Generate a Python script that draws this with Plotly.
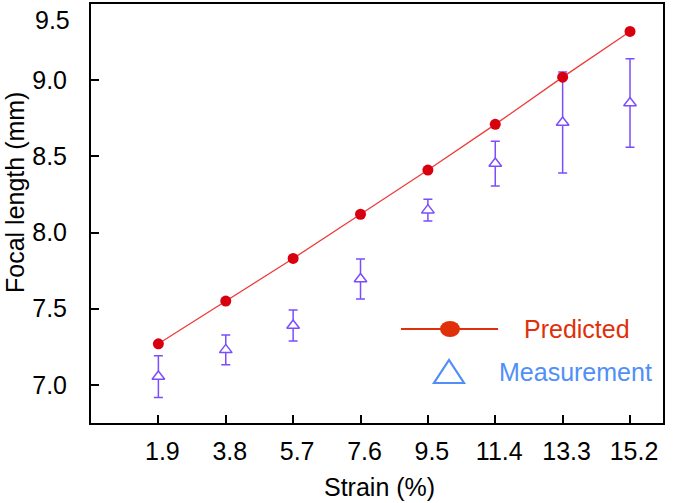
import plotly.graph_objects as go

strain = [1.9, 3.8, 5.7, 7.6, 9.5, 11.4, 13.3, 15.2]
strain_labels = ["1.9", "3.8", "5.7", "7.6", "9.5", "11.4", "13.3", "15.2"]
predicted = [7.27, 7.55, 7.83, 8.12, 8.41, 8.71, 9.02, 9.32]
measured = [7.055, 7.23, 7.39, 7.695, 8.147, 8.453, 8.722, 8.85]
measured_err = [0.137, 0.098, 0.102, 0.131, 0.071, 0.147, 0.332, 0.29]
y_ticks = [7.0, 7.5, 8.0, 8.5, 9.0]
y_ticklabels = ["7.0", "7.5", "8.0", "8.5", "9.0"]

FONT = "Liberation Sans, Arial, Helvetica, sans-serif"
FS = 25

W, H = 675, 503
L, R, T, B = 91, 12, 4, 80
pw, ph = W - L - R, H - T - B

def px(x):
    return (x - L) / pw

def py(y):
    return (H - B - y) / ph

fig = go.Figure()
fig.add_trace(go.Scatter(
    x=strain, y=measured, mode="markers",
    marker=dict(symbol="triangle-up", size=11, color="white",
                line=dict(color="#7b4dff", width=1.5)),
    error_y=dict(type="data", array=measured_err, visible=True,
                 color="#7b4dff", thickness=1.5, width=4.5),
    showlegend=False, cliponaxis=False,
))
fig.add_trace(go.Scatter(
    x=strain, y=predicted, mode="lines+markers",
    line=dict(color="#ee3b3b", width=1.3),
    marker=dict(symbol="circle", size=11, color="#d8000f"),
    showlegend=False, cliponaxis=False,
))

# manual legend
ly1, ly2 = py(329), py(372)
shapes = [
    dict(type="line", xref="paper", yref="paper", x0=px(401), x1=px(498), y0=ly1, y1=ly1,
         line=dict(color="#e0300a", width=2.2)),
    dict(type="circle", xref="paper", yref="paper", xsizemode="pixel", ysizemode="pixel",
         xanchor=px(450), yanchor=ly1, x0=-10, x1=10, y0=-8, y1=8,
         fillcolor="#e0300a", line=dict(color="#e0300a", width=0)),
    dict(type="path", xref="paper", yref="paper", xsizemode="pixel", ysizemode="pixel",
         xanchor=px(449), yanchor=ly2, path="M -15,-11 L 15,-11 L 0,12 Z",
         fillcolor="rgba(0,0,0,0)", line=dict(color="#4f8ff7", width=2.2)),
]
annotations = [
    dict(text="Predicted", xref="paper", yref="paper", x=px(522), y=ly1,
         xanchor="left", yanchor="middle", showarrow=False,
         font=dict(family=FONT, size=FS, color="#e0300a")),
    dict(text="Measurement", xref="paper", yref="paper", x=px(497), y=ly2,
         xanchor="left", yanchor="middle", showarrow=False,
         font=dict(family=FONT, size=FS, color="#4f8ff7")),
    dict(text="9.5", xref="paper", yref="paper", x=0, y=1, xshift=-19, yshift=-16,
         xanchor="right", yanchor="middle", showarrow=False,
         font=dict(family=FONT, size=FS, color="black")),
    dict(text="Focal length (mm)", xref="paper", yref="paper", x=0, y=py(193), xshift=-76,
         xanchor="center", yanchor="middle", textangle=-90, showarrow=False,
         font=dict(family=FONT, size=FS, color="black")),
    dict(text="Strain (%)", xref="paper", yref="paper", x=px(379), y=py(487),
         xanchor="center", yanchor="middle", showarrow=False,
         font=dict(family=FONT, size=FS, color="black")),
]

fig.update_layout(
    width=W, height=H,
    margin=dict(l=L, r=R, t=T, b=B, pad=0, autoexpand=False),
    paper_bgcolor="white", plot_bgcolor="white",
    font=dict(family=FONT, size=FS, color="black"),
    shapes=shapes, annotations=annotations,
    xaxis=dict(range=[0, 16.13], tickvals=strain, ticktext=strain_labels,
               ticks="inside", ticklen=8, tickwidth=1.5, tickcolor="black",
               showline=True, linecolor="black", linewidth=2, mirror=True,
               showgrid=False, zeroline=False, ticklabelstandoff=5, ticklabelshift=4,
               automargin=False),
    yaxis=dict(range=[6.75, 9.5], tickvals=y_ticks, ticktext=y_ticklabels,
               ticks="inside", ticklen=8, tickwidth=1.5, tickcolor="black",
               showline=True, linecolor="black", linewidth=2, mirror=True,
               showgrid=False, zeroline=False, ticklabelstandoff=17,
               automargin=False),
)

fig.write_html("out.html", config={"displayModeBar": False},
               post_script="document.body.style.margin='0';document.body.style.padding='0';")
